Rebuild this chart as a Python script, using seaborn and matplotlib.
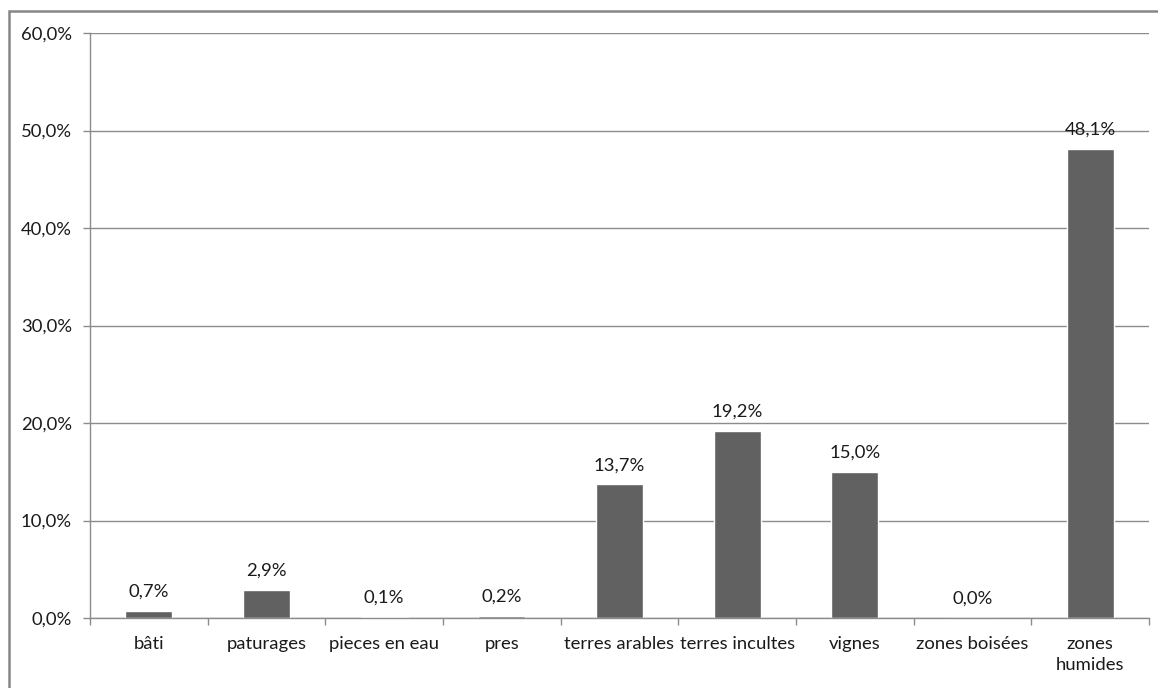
import matplotlib
matplotlib.use("Agg")
import matplotlib.pyplot as plt
import seaborn as sns
import pandas as pd
import numpy as np
from matplotlib.patches import Rectangle
from matplotlib.ticker import FuncFormatter, FixedLocator

categories = ["bâti", "paturages", "pieces en eau", "pres", "terres arables",
              "terres incultes", "vignes", "zones boisées", "zones\nhumides"]
values = [0.7, 2.9, 0.1, 0.2, 13.7, 19.2, 15.0, 0.0, 48.1]
labels = ["0,7%", "2,9%", "0,1%", "0,2%", "13,7%", "19,2%", "15,0%", "0,0%", "48,1%"]
yticks = [0, 10, 20, 30, 40, 50, 60]

sns.set_theme(style="white")
plt.rcParams['font.family'] = ['Lato', 'DejaVu Sans']

FS = 13.3
TXT = "#1a1a1a"

fig = plt.figure(figsize=(11.58, 6.88), dpi=100)
ax = fig.add_axes([90/1158, 1-618/688, (1149-90)/1158, (618-33)/688])

df = pd.DataFrame({"cat": categories, "val": values})
sns.barplot(data=df, x="cat", y="val", color="#616161", saturation=1, width=0.4, ax=ax)

ax.set_ylim(0, 60)
ax.set_xlim(-0.5, len(categories) - 0.5)
ax.yaxis.set_major_locator(FixedLocator(yticks))
ax.yaxis.set_major_formatter(FuncFormatter(lambda v, p: f"{v:.1f}%".replace(".", ",")))
ax.yaxis.grid(True, color="#8c8c8c", linewidth=1)
ax.set_axisbelow(True)
ax.set_xlabel("")
ax.set_ylabel("")

for s in ["top", "right"]:
    ax.spines[s].set_visible(False)
for s in ["left", "bottom"]:
    ax.spines[s].set_color("#8c8c8c")
    ax.spines[s].set_linewidth(1)

ax.tick_params(axis="y", which="major", length=5, width=1, color="#8c8c8c",
               labelsize=FS, labelcolor=TXT, pad=8, left=True)
ax.tick_params(axis="x", which="major", length=0, labelsize=FS, labelcolor=TXT, pad=13)
for t in ax.get_xticklabels():
    t.set_linespacing(1.35)
ax.set_xticks(np.arange(-0.5, len(categories)), minor=True)
ax.tick_params(axis="x", which="minor", length=5, width=1, color="#8c8c8c", bottom=True)

for i, (v, lab) in enumerate(zip(values, labels)):
    ax.annotate(lab, (i, v), xytext=(0, 8), textcoords="offset points",
                ha="center", va="bottom", fontsize=FS, color=TXT)

fig.patches.append(Rectangle((9/1158, -0.05), 1.2, 1 - 10.5/688 + 0.05,
                             transform=fig.transFigure, fill=False,
                             edgecolor="#868686", linewidth=1.8, zorder=10))

fig.savefig("out.png", dpi=100, facecolor="white")
